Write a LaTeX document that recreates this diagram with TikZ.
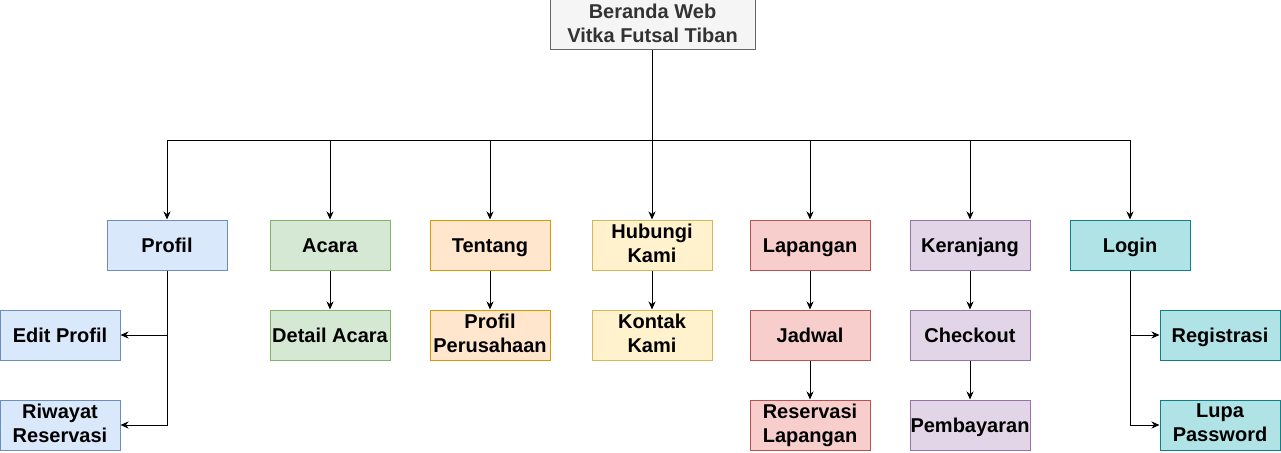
\documentclass[tikz,border=0pt]{standalone}
\usepackage{fontspec}
\setmainfont{Liberation Sans}
\usepackage{tikz}
\usetikzlibrary{arrows.meta}

\definecolor{grayfill}{HTML}{F5F5F5}
\definecolor{graydraw}{HTML}{666666}
\definecolor{graytext}{HTML}{333333}
\definecolor{bluefill}{HTML}{DAE8FC}
\definecolor{bluedraw}{HTML}{6C8EBF}
\definecolor{greenfill}{HTML}{D5E8D4}
\definecolor{greendraw}{HTML}{82B366}
\definecolor{orangefill}{HTML}{FFE6CC}
\definecolor{orangedraw}{HTML}{D79B00}
\definecolor{yellowfill}{HTML}{FFF2CC}
\definecolor{yellowdraw}{HTML}{D6B656}
\definecolor{redfill}{HTML}{F8CECC}
\definecolor{reddraw}{HTML}{B85450}
\definecolor{purplefill}{HTML}{E1D5E7}
\definecolor{purpledraw}{HTML}{9673A6}
\definecolor{tealfill}{HTML}{B0E3E6}
\definecolor{tealdraw}{HTML}{0E8088}

\newcommand{\boxstrut}{\rule[-4.3pt]{0pt}{22.9pt}}

\tikzset{
  box/.style={draw, line width=1pt, minimum width=120pt, minimum height=50pt,
    inner sep=0pt, align=center, text=black,
    font=\fontsize{20}{24}\selectfont\bfseries,
    execute at begin node=\boxstrut, execute at end node=\boxstrut},
  home/.style={box, fill=grayfill, draw=graydraw, text=graytext, minimum width=205pt},
  blue/.style={box, fill=bluefill, draw=bluedraw},
  green/.style={box, fill=greenfill, draw=greendraw},
  orange/.style={box, fill=orangefill, draw=orangedraw},
  yellow/.style={box, fill=yellowfill, draw=yellowdraw},
  red/.style={box, fill=redfill, draw=reddraw},
  purple/.style={box, fill=purplefill, draw=purpledraw},
  teal/.style={box, fill=tealfill, draw=tealdraw},
  arr/.style={draw, line width=1pt, -{Stealth[length=8pt,width=7pt,inset=2.5pt]}}
}

\begin{document}
\begin{tikzpicture}[x=1pt,y=-1pt]
        \useasboundingbox (0,0) rectangle (1281,452);

        \node[home] (beranda) at (652.5,25) {Beranda Web\\Vitka Futsal Tiban};
        \coordinate (bus) at (652,140);

        \node[blue] (profil) at (167,245) {Profil};
        \node[green] (acara) at (330,245) {Acara};
        \node[orange] (tentang) at (490,245) {Tentang};
        \node[yellow] (hubungi) at (652,245) {Hubungi\\Kami};
        \node[red] (lapangan) at (810,245) {Lapangan};
        \node[purple] (keranjang) at (970,245) {Keranjang};
        \node[teal] (login) at (1130,245) {Login};

        \node[blue] (editprofil) at (60,335) {Edit Profil};
        \node[blue] (riwayat) at (60,425) {Riwayat\\Reservasi};
        \node[green] (detailacara) at (330,335) {Detail Acara};
        \node[orange] (perusahaan) at (490,335) {Profil\\Perusahaan};
        \node[yellow] (kontak) at (652,335) {Kontak\\Kami};
        \node[red] (jadwal) at (810,335) {Jadwal};
        \node[red] (reservasi) at (810,425) {Reservasi\\Lapangan};
        \node[purple] (checkout) at (970,335) {Checkout};
        \node[purple] (pembayaran) at (970,425) {Pembayaran};
        \node[teal] (registrasi) at (1220,335) {Registrasi};
        \node[teal] (lupa) at (1220,425) {Lupa\\Password};

        \foreach \n in {profil,acara,tentang,lapangan,keranjang,login}
          \draw[arr] (hubungi.north |- beranda.south) -- (bus) -| (\n.north);
        \draw[arr] (hubungi.north |- beranda.south) -- (hubungi.north);

        \draw[arr] (profil.south) |- (editprofil.east);
        \draw[arr] (profil.south) |- (riwayat.east);
        \draw[arr] (acara) -- (detailacara);
        \draw[arr] (tentang) -- (perusahaan);
        \draw[arr] (hubungi) -- (kontak);
        \draw[arr] (lapangan) -- (jadwal);
        \draw[arr] (jadwal) -- (reservasi);
        \draw[arr] (keranjang) -- (checkout);
        \draw[arr] (checkout) -- (pembayaran);
        \draw[arr] (login.south) |- (registrasi.west);
        \draw[arr] (login.south) |- (lupa.west);
      \end{tikzpicture}
\end{document}
